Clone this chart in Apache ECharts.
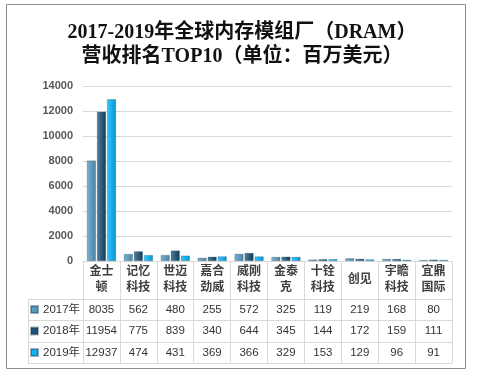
<!DOCTYPE html>
<html>
<head>
<meta charset="utf-8">
<script src="https://cdn.jsdelivr.net/npm/echarts@6/dist/echarts.min.js"></script>
<style>
  html, body { margin: 0; padding: 0; background: #fff; }
  #chart { width: 484px; height: 376px; }
</style>
</head>
<body>
<div id="chart"></div>
<script>
// 厂商（换行方便表格显示）
var companies = ['金士\n顿', '记忆\n科技', '世迈\n科技', '嘉合\n劲威', '威刚\n科技', '金泰\n克', '十铨\n科技', '创见', '宇瞻\n科技', '宜鼎\n国际'];
var years = ['2017年', '2018年', '2019年'];
var rev2017 = [8035, 562, 480, 255, 572, 325, 119, 219, 168, 80];
var rev2018 = [11954, 775, 839, 340, 644, 345, 144, 172, 159, 111];
var rev2019 = [12937, 474, 431, 369, 366, 329, 153, 129, 96, 91];
var yTicks = { min: 0, max: 14000, interval: 2000 };

var chart = echarts.init(document.getElementById('chart'));

var lineColor = '#d9d9d9';
var tableFont = 'Liberation Sans, Noto Sans CJK SC, sans-serif';

// 柱子的渐变色，模拟立体效果
function grad(c1, c2) {
    return new echarts.graphic.LinearGradient(0, 0, 1, 0, [
        { offset: 0, color: c1 },
        { offset: 1, color: c2 }
    ]);
}
var barColors = [
    grad('#79b2d2', '#4b82a3'),
    grad('#52809d', '#0d3c5b'),
    grad('#35c6ff', '#0694d2')
];
var legendColors = ['#5b99bd', '#245474', '#16b0ee'];
var rows = [rev2017, rev2018, rev2019];
var rowOffsets = [38, 59.5, 81];

// 表格中的数值行：每行用一个偏移的类目轴来画
var valueAxes = rows.map(function (vals, i) {
    return {
        type: 'category',
        position: 'bottom',
        offset: rowOffsets[i],
        data: vals.map(String),
        axisLine: { show: true, lineStyle: { color: lineColor } },
        axisTick: { show: false },
        axisLabel: {
            interval: 0,
            margin: 10.5,
            verticalAlign: 'middle',
            fontSize: 11.5,
            color: '#333',
            fontFamily: tableFont
        },
        splitLine: { show: false }
    };
});

var option = {
    animation: false,
    backgroundColor: '#fff',
    title: {
        text: '2017-2019年全球内存模组厂（DRAM）\n营收排名TOP10（单位：百万美元）',
        left: 'center',
        top: 16,
        textStyle: {
            fontSize: 20,
            fontWeight: 'bold',
            lineHeight: 24,
            color: '#111',
            fontFamily: 'Liberation Serif, Noto Sans CJK SC, serif'
        }
    },
    legend: {
        data: years.map(function (y, i) {
            return { name: y, itemStyle: { color: legendColors[i] } };
        }),
        orient: 'vertical',
        left: 30,
        top: 302.5,
        padding: 0,
        itemWidth: 7,
        itemHeight: 7,
        itemGap: 7.5,
        itemTextGap: 1,
        icon: 'rect',
        selectedMode: false,
        textStyle: {
            fontSize: 11.5,
            lineHeight: 14,
            color: '#333',
            fontFamily: tableFont
        }
    },
    grid: {
        left: 83,
        right: 32,
        top: 86,
        bottom: 115,
        containLabel: false
    },
    xAxis: [
        {
            type: 'category',
            position: 'bottom',
            data: companies,
            axisLine: { show: true, lineStyle: { color: lineColor } },
            axisTick: { show: true, interval: 0, length: 102, lineStyle: { color: lineColor } },
            axisLabel: {
                interval: 0,
                margin: 19,
                verticalAlign: 'middle',
                fontSize: 12,
                lineHeight: 16,
                fontWeight: 'bold',
                color: '#404040',
                fontFamily: tableFont
            }
        }
    ].concat(valueAxes).concat([
        {
            // 表格底边
            type: 'category',
            position: 'bottom',
            offset: 102,
            data: companies,
            axisLine: { show: true, lineStyle: { color: lineColor } },
            axisTick: { show: false },
            axisLabel: { show: false }
        }
    ]),
    yAxis: {
        type: 'value',
        min: yTicks.min,
        max: yTicks.max,
        interval: yTicks.interval,
        axisLine: { show: false },
        axisTick: { show: false },
        axisLabel: {
            margin: 10,
            fontSize: 11,
            fontWeight: 'bold',
            color: '#595959',
            fontFamily: 'Liberation Sans, sans-serif',
            formatter: function (v) { return String(v); }
        },
        splitLine: { lineStyle: { color: lineColor } }
    },
    series: rows.map(function (vals, i) {
        return {
            name: years[i],
            type: 'bar',
            xAxisIndex: 0,
            data: vals,
            barWidth: 9,
            barGap: '12%',
            itemStyle: {
                color: barColors[i],
                borderColor: 'rgba(0,40,60,0.35)',
                borderWidth: 0.6
            }
        };
    }),
    graphic: [
        // 外框
        { type: 'rect', shape: { x: 6.5, y: 4.5, width: 459, height: 364 }, style: { fill: 'none', stroke: '#8c8c8c', lineWidth: 1 } },
        // 左侧图例列的表格线
        { type: 'line', shape: { x1: 28.5, y1: 299, x2: 28.5, y2: 363 }, style: { stroke: lineColor } },
        { type: 'line', shape: { x1: 28, y1: 299.5, x2: 83, y2: 299.5 }, style: { stroke: lineColor } },
        { type: 'line', shape: { x1: 28, y1: 320.5, x2: 83, y2: 320.5 }, style: { stroke: lineColor } },
        { type: 'line', shape: { x1: 28, y1: 342.5, x2: 83, y2: 342.5 }, style: { stroke: lineColor } },
        { type: 'line', shape: { x1: 28, y1: 363.5, x2: 83, y2: 363.5 }, style: { stroke: lineColor } }
    ]
};

chart.setOption(option);
</script>
</body>
</html>
